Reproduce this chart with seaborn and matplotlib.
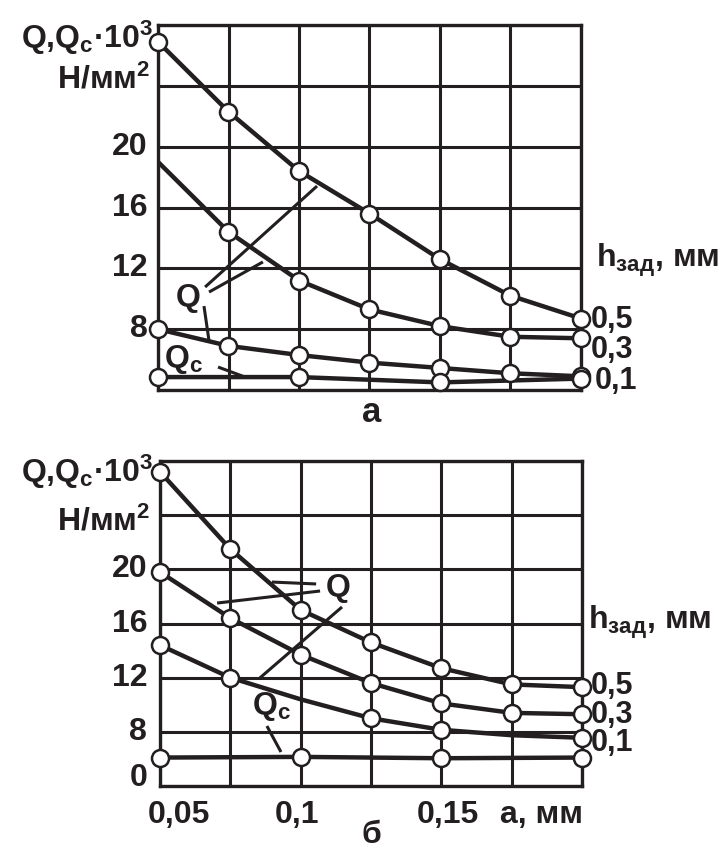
import matplotlib
matplotlib.use("Agg")
import matplotlib.pyplot as plt
import seaborn as sns
import numpy as np
import pandas as pd

# ---------------- data ----------------
a_values = [0.05, 0.075, 0.1, 0.125, 0.15, 0.175, 0.2]
qc_a = [0.05, 0.1, 0.15, 0.2]

# panel "a"
top_h05 = [26.9, 22.3, 18.4, 15.6, 12.6, 10.2, 8.7]
top_h03 = [19.0, 14.4, 11.2, 9.3, 8.2, 7.5, 7.4]
top_h01 = [8.0, 6.9, 6.3, 5.8, 5.45, 5.1, 4.9]
top_qc = [4.85, 4.85, 4.5, 4.75]
top_h03_marked = [False, True, True, True, True, True, True]

# panel "б"
bot_h05 = [27.2, 21.5, 17.0, 14.6, 12.7, 11.5, 11.3]
bot_h03 = [19.8, 16.4, 13.7, 11.6, 10.1, 9.4, 9.3]
bot_h01 = [14.4, 12.0, 10.4, 9.0, 8.15, 7.75, 7.56]
bot_qc = [6.1, 6.15, 6.05, 6.1]
bot_h01_marked = [True, True, False, True, True, False, True]

y_ticks_top = [8, 12, 16, 20]
y_tick_labels_bot = ["0", "8", "12", "16", "20"]
y_ticks_bot = [4, 8, 12, 16, 20]
x_tick_labels = ["0,05", "0,1", "0,15"]
h_labels = ["0,5", "0,3", "0,1"]

# ---------------- style ----------------
sns.set_theme(style="white")
plt.rcParams["font.family"] = ["Liberation Sans", "DejaVu Sans"]
plt.rcParams["font.weight"] = "bold"
plt.rcParams["mathtext.fontset"] = "custom"
plt.rcParams["mathtext.rm"] = "Liberation Sans:bold"
plt.rcParams["mathtext.it"] = "Liberation Sans:bold"
plt.rcParams["mathtext.bf"] = "Liberation Sans:bold"

K = "#231f20"
FS = 23
W, H = 728, 852

fig = plt.figure(figsize=(W / 100, H / 100), dpi=100)
ax1 = fig.add_axes([158 / W, 1 - 390 / H, 423 / W, 365 / H])
ax2 = fig.add_axes([160 / W, 1 - 786 / H, 422 / W, 325 / H])


def fx(px):
    return px / W


def fy(py):
    return 1 - py / H


def setup(ax):
    ax.set_xlim(0.05, 0.2)
    ax.set_ylim(4, 28)
    ax.set_xticks(np.arange(0.05, 0.2001, 0.025))
    ax.set_yticks(np.arange(4, 28.1, 4))
    ax.tick_params(length=0, labelleft=False, labelbottom=False)
    ax.grid(True, color=K, lw=2.2)
    ax.set_axisbelow(True)
    for s in ax.spines.values():
        s.set_color(K)
        s.set_linewidth(2.4)
    ax.set_xlabel("")
    ax.set_ylabel("")


def curve(ax, xs, ys, mask=None):
    df = pd.DataFrame({"a": xs, "q": ys})
    sns.lineplot(data=df, x="a", y="q", ax=ax, color=K, lw=3.2, sort=False, zorder=3)
    if mask is not None:
        df = df[mask]
    sns.scatterplot(data=df, x="a", y="q", ax=ax, s=150, color="white",
                    edgecolor=K, linewidth=1.8, zorder=5, clip_on=False)


def txt(px, py, s, ha="center", size=FS):
    fig.text(fx(px), fy(py), s, ha=ha, va="center", fontsize=size,
             fontweight="bold", color=K)


# ---------------- panel a ----------------
curve(ax1, a_values, top_h05)
curve(ax1, a_values, top_h03, top_h03_marked)
curve(ax1, a_values, top_h01)
curve(ax1, qc_a, top_qc)
setup(ax1)

for yt in y_ticks_top:
    ax1.text(-0.025, yt, str(yt), transform=ax1.get_yaxis_transform(),
             ha="right", va="center", fontsize=FS, fontweight="bold", color=K)

lk = dict(color=K, lw=2.2, zorder=4, solid_capstyle="butt")
ax1.plot([0.0667, 0.1064], [10.77, 17.41], **lk)
ax1.plot([0.0681, 0.0872], [10.44, 12.42], **lk)
ax1.plot([0.0663, 0.0681], [9.52, 7.22], **lk)
ax1.plot([0.0713, 0.0809], [5.51, 4.85], **lk)
ax1.text(0.0606, 10.05, "Q", ha="center", va="center", fontsize=FS, fontweight="bold", color=K)
ax1.text(0.0592, 6.0, "Q$_{\\rm c}$", ha="center", va="center", fontsize=FS, fontweight="bold", color=K)

txt(153, 38, "Q,Q$_{\\rm c}$·10$^{\\rm 3}$", ha="right")
txt(150, 80, "H/мм$^{\\rm 2}$", ha="right")
txt(596, 260, "h$_{\\rm зад}$, мм", ha="left")
for lab, py, px in zip(h_labels, [320, 350, 381], [591, 591, 595]):
    txt(px, py, lab, ha="left", size=22)
txt(372, 412, "а", size=25)

# ---------------- panel б ----------------
curve(ax2, a_values, bot_h05)
curve(ax2, a_values, bot_h03)
curve(ax2, a_values, bot_h01, bot_h01_marked)
curve(ax2, qc_a, bot_qc)
setup(ax2)

for yt, lab in zip(y_ticks_bot, y_tick_labels_bot):
    yy = yt + (0.6 if lab == "0" else 0)
    ax2.text(-0.03, yy, lab, transform=ax2.get_yaxis_transform(),
             ha="right", va="center", fontsize=FS, fontweight="bold", color=K)

ax2.plot([0.1055, 0.0898], [18.92, 19.06], **lk)
ax2.plot([0.1069, 0.0703], [18.40, 17.51], **lk)
ax2.plot([0.1147, 0.0855], [17.22, 11.98], **lk)
ax2.plot([0.088, 0.093], [8.43, 6.51], **lk)
ax2.text(0.1135, 18.6, "Q", ha="center", va="center", fontsize=FS, fontweight="bold", color=K)
ax2.text(0.0895, 9.85, "Q$_{\\rm c}$", ha="center", va="center", fontsize=FS, fontweight="bold", color=K)

for lab, px in zip(x_tick_labels, [179, 297, 448]):
    txt(px, 815, lab)
txt(541, 815, "а, мм")

txt(153, 472, "Q,Q$_{\\rm c}$·10$^{\\rm 3}$", ha="right")
txt(150, 522, "H/мм$^{\\rm 2}$", ha="right")
txt(588, 622, "h$_{\\rm зад}$, мм", ha="left")
for lab, py in zip(h_labels, [686, 715, 743]):
    txt(591, py, lab, ha="left", size=22)
txt(371, 835, "б", size=23)

fig.savefig("out.png", dpi=100, facecolor="white")
